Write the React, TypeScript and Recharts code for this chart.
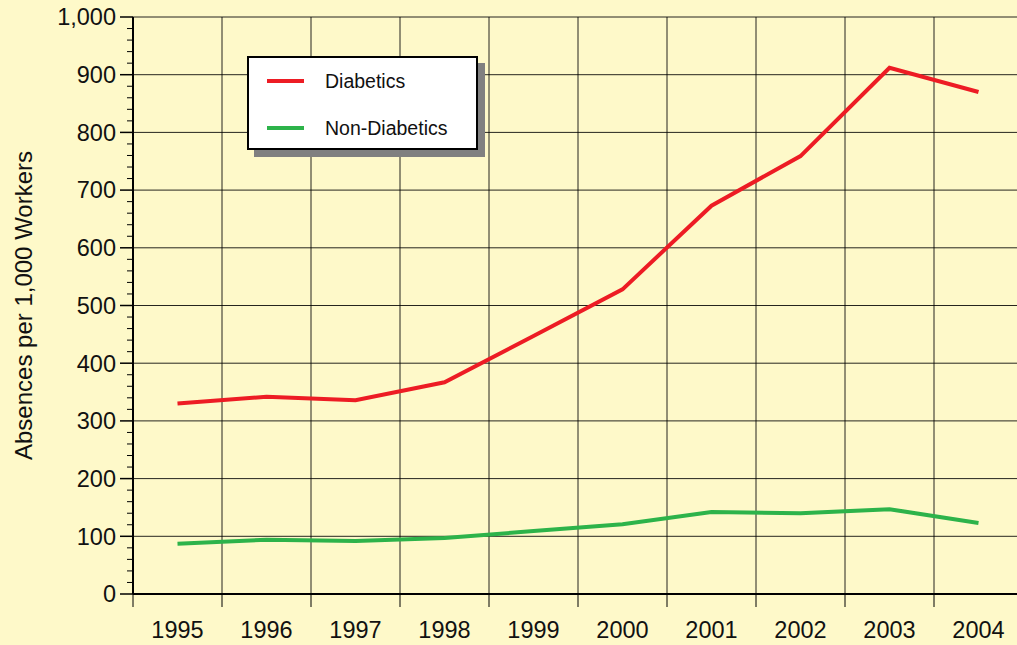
import React from 'react';
import { LineChart, Line, XAxis, YAxis, CartesianGrid, Legend, Label } from 'recharts';

const years = ['1995', '1996', '1997', '1998', '1999', '2000', '2001', '2002', '2003', '2004'];
const diabetics = [330, 342, 336, 367, 447, 528, 673, 759, 912, 870];
const nonDiabetics = [87, 94, 92, 97, 109, 121, 142, 140, 147, 123];
const majorTicks = [0, 100, 200, 300, 400, 500, 600, 700, 800, 900, 1000];
const yTicks = Array.from({ length: 51 }, (_, i) => i * 20);

const RED = '#ED1C24';
const GREEN = '#2DB34A';
const FONT = '"Liberation Sans", Arial, sans-serif';
const TICK = 13;
const Y_MARGIN = 4;
const X_MARGIN = 14;

const data = years.map((year, i) => ({
    year,
    diabetics: diabetics[i],
    nonDiabetics: nonDiabetics[i],
}));

const legendItems = [
    { name: 'Diabetics', color: RED },
    { name: 'Non-Diabetics', color: GREEN },
];

// y ticks every 20, labels and long marks only on the hundreds
const YTick = ({ x, y, payload }: any) => {
    const axisX = x + TICK + Y_MARGIN;
    const major = majorTicks.includes(payload.value);
    return (
        <g>
            <line x1={axisX - (major ? TICK : 6)} x2={axisX} y1={y} y2={y} stroke="#000" strokeWidth={major ? 1.5 : 1} />
            {major && (
                <text x={x} y={y} dy="0.355em" textAnchor="end" fontFamily={FONT} fontSize={23.5} fill="#111">
                    {payload.value.toLocaleString('en-US')}
                </text>
            )}
        </g>
    );
};

// year label in the middle of the band, tick mark on the band's left edge
const XTick = ({ x, y, payload, width, visibleTicksCount }: any) => {
    const half = payload.offset ?? width / visibleTicksCount / 2;
    const axisY = y - TICK - X_MARGIN;
    return (
        <g>
            <line x1={x - half} x2={x - half} y1={axisY} y2={axisY + TICK} stroke="#000" strokeWidth={1} />
            <text x={x} y={y} dy="0.71em" textAnchor="middle" fontFamily={FONT} fontSize={23.5} fill="#111">
                {payload.value}
            </text>
        </g>
    );
};

const bandEdgesGen = ({ xAxis, offset }: any) => {
    const s = xAxis?.scale;
    if (typeof s === 'function') return years.map((yr) => s(yr));
    return years.map((_, i) => offset.left + (i * offset.width) / years.length);
};

const LegendBox = () => (
    <div
        style={{
            width: 227,
            height: 90,
            background: '#fff',
            border: '2px solid #000',
            boxShadow: '7px 7px 0 #808080',
            fontFamily: FONT,
            fontSize: 19.5,
            color: '#111',
            position: 'relative',
        }}
    >
        {legendItems.map((item, i) => (
            <div
                key={item.name}
                style={{ position: 'absolute', left: 18, top: 11 + i * 47, height: 24, display: 'flex', alignItems: 'center' }}
            >
                <span style={{ display: 'inline-block', width: 37, height: 4, background: item.color, marginRight: 21 }} />
                <span>{item.name}</span>
            </div>
        ))}
    </div>
);

const YTitle = ({ viewBox }: any) => {
    const cy = viewBox.y + viewBox.height / 2;
    return (
        <text
            x={23}
            y={cy}
            transform={`rotate(-90, 23, ${cy})`}
            textAnchor="middle"
            dominantBaseline="central"
            fontFamily={FONT}
            fontSize={24}
            fill="#111"
        >
            Absences per 1,000 Workers
        </text>
    );
};

export default function App() {
    return (
        <div
            style={{
                position: 'absolute',
                left: 0,
                top: 0,
                width: 1017,
                height: 645,
                overflow: 'hidden',
                background: '#FEF9C9',
            }}
        >
            <LineChart width={1023} height={645} data={data} margin={{ top: 17, right: 0, bottom: 0, left: 0 }}>
                <XAxis
                    dataKey="year"
                    scale="band"
                    height={51}
                    tickSize={TICK}
                    tickMargin={X_MARGIN}
                    tickLine={{ stroke: 'none' }}
                    axisLine={{ stroke: '#000', strokeWidth: 2 }}
                    tick={<XTick />}
                    interval={0}
                />
                <YAxis
                    domain={[0, 1000]}
                    ticks={yTicks}
                    interval={0}
                    width={133}
                    tickSize={TICK}
                    tickMargin={Y_MARGIN}
                    tickLine={{ stroke: 'none' }}
                    axisLine={{ stroke: '#000', strokeWidth: 2 }}
                    tick={<YTick />}
                >
                    <Label content={<YTitle />} />
                </YAxis>
                <CartesianGrid
                    stroke="#000"
                    strokeOpacity={0.85}
                    horizontalValues={majorTicks}
                    verticalCoordinatesGenerator={bandEdgesGen}
                />
                <Legend
                    layout="vertical"
                    verticalAlign="middle"
                    align="center"
                    content={<LegendBox />}
                    wrapperStyle={{ left: 247, top: 56, width: 231, height: 94 }}
                />
                <Line
                    dataKey="diabetics"
                    name="Diabetics"
                    stroke={RED}
                    strokeWidth={4}
                    dot={false}
                    activeDot={false}
                    isAnimationActive={false}
                />
                <Line
                    dataKey="nonDiabetics"
                    name="Non-Diabetics"
                    stroke={GREEN}
                    strokeWidth={4}
                    dot={false}
                    activeDot={false}
                    isAnimationActive={false}
                />
            </LineChart>
        </div>
    );
}
